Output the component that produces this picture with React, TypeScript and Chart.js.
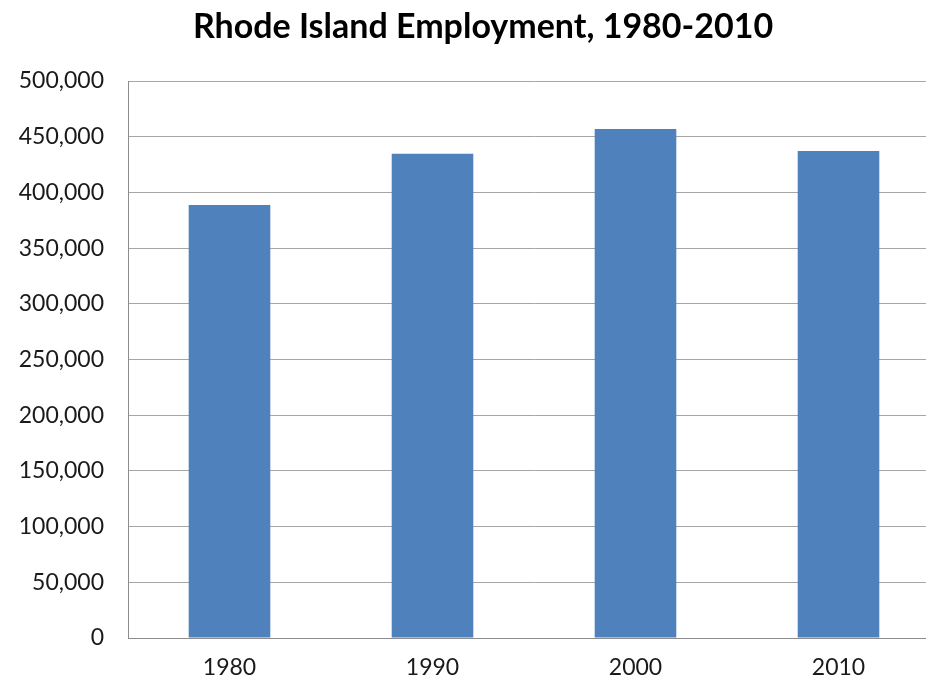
import React, { useEffect, useRef } from "react";
import { Chart, registerables } from "chart.js";

Chart.register(...registerables);

const years = ["1980", "1990", "2000", "2010"];
const employment = [388700, 434800, 456900, 437200];
const titleText = "Rhode Island Employment, 1980-2010";

const CANVAS_W = 950;
const CANVAS_H = 685;

const titlePlugin = {
  id: "customTitle",
  afterDraw(chart: any) {
    const ctx = chart.ctx;
    ctx.save();
    ctx.font = "bold 34px Lato";
    ctx.fillStyle = "#000";
    ctx.textAlign = "center";
    ctx.textBaseline = "middle";
    ctx.fillText(titleText, 483, 27);
    ctx.restore();
  },
};

export default function App() {
  const ref = useRef<HTMLCanvasElement | null>(null);

  useEffect(() => {
    if (!ref.current) return;
    const chart = new Chart(ref.current, {
      type: "bar",
      data: {
        labels: years,
        datasets: [
          {
            label: "Employment",
            data: employment,
            backgroundColor: "#4F81BD",
            borderWidth: 0,
            barPercentage: 0.402,
            categoryPercentage: 1,
          },
        ],
      },
      options: {
        animation: false,
        responsive: false,
        maintainAspectRatio: false,
        layout: { padding: { left: 0, right: 10, top: 81, bottom: 0 } },
        plugins: {
          legend: { display: false },
          tooltip: { enabled: false },
          title: { display: false },
        },
        scales: {
          x: {
            grid: { display: false, drawTicks: false },
            border: { display: true, color: "#8c8c8c", width: 1 },
            ticks: {
              color: "#1a1a1a",
              font: { family: "Lato", size: 23 },
              padding: 16,
            },
            afterFit: (s: any) => {
              s.height = 47;
            },
          },
          y: {
            min: 0,
            max: 500000,
            grid: { color: "#a6a6a6", lineWidth: 1, drawTicks: false },
            border: { display: true, color: "#8c8c8c", width: 1 },
            ticks: {
              stepSize: 50000,
              color: "#1a1a1a",
              font: { family: "Lato", size: 23 },
              padding: 24,
              callback: (v: any) => Number(v).toLocaleString("en-US"),
            },
            afterFit: (s: any) => {
              s.width = 128;
            },
          },
        },
      },
      plugins: [titlePlugin],
    });
    return () => chart.destroy();
  }, []);

  return (
    <div
      style={{
        position: "fixed",
        left: 0,
        top: 0,
        width: 926,
        height: 685,
        overflow: "hidden",
        background: "#fff",
      }}
    >
      <canvas
        ref={ref}
        width={CANVAS_W}
        height={CANVAS_H}
        style={{ width: CANVAS_W, height: CANVAS_H, display: "block" }}
      />
    </div>
  );
}
